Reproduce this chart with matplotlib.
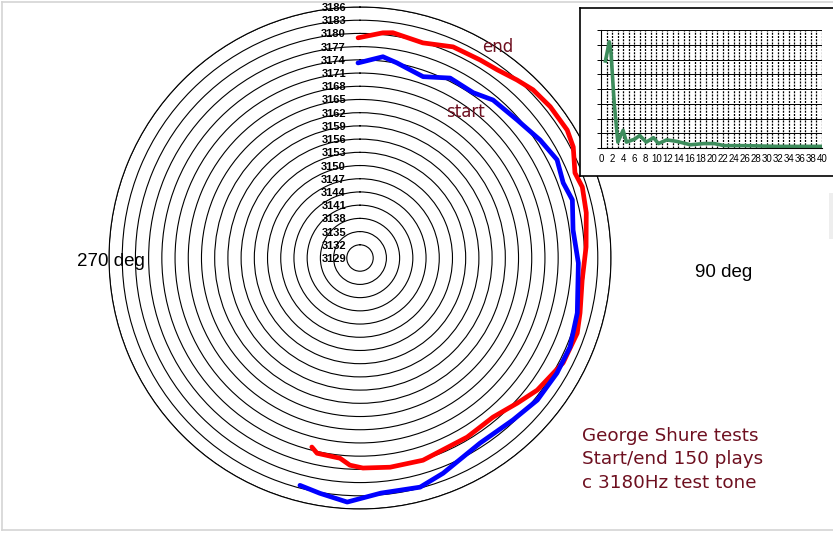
import numpy as np
import matplotlib.pyplot as plt
from matplotlib.lines import Line2D
from matplotlib.patches import Rectangle

W, H = 833, 533

# ring values (Hz), centre is 3129
rings = list(range(3129, 3187, 3))

# "end" trace (red): angle in deg clockwise from top, frequency in Hz
end_deg = [-0.5, 5.8, 8.3, 16.3, 23.8, 31.2, 36.1, 41.4, 45.8, 51.5, 58.3, 62.5,
           68.4, 72.3, 78.7, 87.2, 95.7, 104.0, 109.1, 117.3, 126.7, 132.7,
           140.1, 149.1, 162.7, 171.8, 179.2, 182.8, 185.7, 192.4, 194.3]
end_hz = [3179.0, 3180.4, 3180.7, 3179.9, 3181.4, 3181.6, 3181.9, 3182.9, 3183.8,
          3184.2, 3184.3, 3183.6, 3181.5, 3182.0, 3181.4, 3180.4, 3179.7, 3180.5,
          3181.2, 3180.9, 3179.2, 3177.6, 3176.1, 3176.4, 3177.1, 3177.0, 3176.7,
          3176.1, 3174.7, 3174.4, 3173.3]

# "start" trace (blue)
start_deg = [-0.6, 6.5, 10.7, 19.2, 26.6, 34.4, 40.1, 48.7, 56.8, 63.5, 69.7, 74.7,
             82.5, 91.3, 104.2, 113.0, 120.3, 128.7, 136.6, 147.0, 158.9, 165.3,
             174.9, 183.0, 189.7, 194.8]
start_hz = [3173.3, 3175.0, 3174.1, 3172.6, 3174.7, 3174.5, 3175.9, 3176.5, 3177.9,
            3179.0, 3178.2, 3179.0, 3177.8, 3178.6, 3179.9, 3180.8, 3180.8, 3180.6,
            3179.6, 3179.1, 3181.4, 3182.8, 3182.6, 3184.5, 3183.2, 3182.4]

# inset spectrum (green)
spec_x = [0.8, 1.5, 1.8, 2.4, 3.05, 4.0, 4.6, 6.1, 7.0, 8.2, 9.5, 10.4, 11.9,
          13.7, 16.2, 18.6, 20.5, 22.3, 26, 32, 40]
spec_y = [5.9, 7.2, 6.5, 3.0, 0.4, 1.2, 0.4, 0.6, 0.85, 0.4, 0.7, 0.3, 0.55,
          0.45, 0.22, 0.3, 0.3, 0.16, 0.16, 0.11, 0.11]
spec_ticks = list(range(0, 41, 2))

maroon = '#6e1020'


def fx(x):
    return x / W


def fy(y):
    return 1 - y / H


fig = plt.figure(figsize=(W / 100, H / 100), dpi=100)

# light grey chart frame
fig.add_artist(Line2D([fx(2), fx(833)], [fy(2), fy(2)], color='#d4d4d4', lw=1.2))
fig.add_artist(Line2D([fx(2), fx(2)], [fy(2), fy(530)], color='#d4d4d4', lw=1.2))
fig.add_artist(Line2D([fx(2), fx(833)], [fy(530), fy(530)], color='#d4d4d4', lw=1.2))
fig.add_artist(Rectangle((fx(829), fy(239)), fx(6), (239 - 193) / H,
                         facecolor='#eeeeee', edgecolor='none'))

# polar plot
cx, cy, R = 360, 258, 251
ax = fig.add_axes([fx(cx - R), fy(cy + R), 2 * R / W, 2 * R / H], projection='polar')
ax.set_theta_zero_location('N')
ax.set_theta_direction(-1)
ax.set_ylim(3129, 3186)
ax.set_yticks(rings[1:])
ax.set_yticklabels([])
ax.set_xticks([])
ax.yaxis.grid(True, color='black', lw=0.8)
ax.xaxis.grid(False)
ax.spines['polar'].set_color('black')
ax.spines['polar'].set_linewidth(0.8)

for v in rings:
    ax.annotate(str(v), xy=(0, v), xytext=(-14, -1), textcoords='offset pixels',
                ha='right', va='center', fontsize=8, fontweight='bold',
                family='Liberation Sans', annotation_clip=False)

ax.plot(np.deg2rad(end_deg), end_hz, color='#ff0000', lw=3.4,
        solid_capstyle='round', solid_joinstyle='round')
ax.plot(np.deg2rad(start_deg), start_hz, color='#0000ff', lw=3.4,
        solid_capstyle='round', solid_joinstyle='round')

# texts
fig.text(fx(482), fy(52), 'end', color=maroon, fontsize=12, va='baseline')
fig.text(fx(446), fy(117), 'start', color=maroon, fontsize=12, va='baseline')
fig.text(fx(77), fy(266), '270 deg', fontsize=13.5, family='Liberation Sans', va='baseline')
fig.text(fx(695), fy(277), '90 deg', fontsize=13.5, family='Liberation Sans', va='baseline')
for i, line in enumerate(['George Shure tests', 'Start/end 150 plays', 'c 3180Hz test tone']):
    fig.text(fx(582), fy(441 + i * 23.5), line, color=maroon, fontsize=13.2, va='baseline')

# inset box
box = fig.add_axes([fx(580), fy(176), (845 - 580) / W, (176 - 8) / H])
box.set_xticks([])
box.set_yticks([])
for s in box.spines.values():
    s.set_color('black')
    s.set_linewidth(1.2)

# inset spectrum
ins = fig.add_axes([fx(601), fy(148), (822 - 601) / W, (148 - 30) / H])
ins.set_xlim(0, 40)
ins.set_ylim(0, 8)
ins.set_facecolor('none')
for y in range(1, 9):
    ins.axhline(y, color='black', lw=0.7)
for x in range(1, 41):
    ins.axvline(x, color='black', lw=0.9, ls=(0, (1.6, 1.0)))
ins.plot(spec_x, spec_y, color='#3d8c5c', lw=2.6)
ins.set_xticks(spec_ticks)
ins.set_xticklabels([str(t) for t in spec_ticks], fontsize=7, family='Liberation Sans')
ins.tick_params(axis='x', length=0, pad=4)
ins.set_yticks(range(0, 9))
ins.set_yticklabels([])
ins.tick_params(axis='y', length=3, width=0.7, direction='out')
for s in ['top', 'right']:
    ins.spines[s].set_visible(False)
ins.spines['left'].set_linewidth(0.8)
ins.spines['bottom'].set_linewidth(0.8)

fig.savefig('out.png', dpi=100)
